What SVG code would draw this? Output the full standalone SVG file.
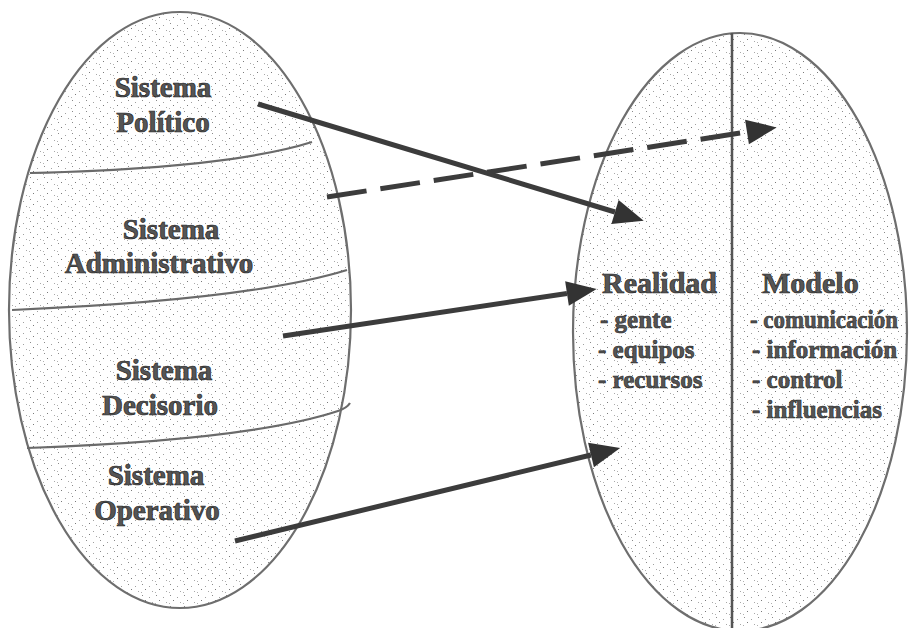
<svg xmlns="http://www.w3.org/2000/svg" width="911" height="628" viewBox="0 0 911 628">
  <style>
    .shape { stroke: #6e6e6e; stroke-width: 2.2; fill: url(#stipple); }
    .div { stroke: #6a6a6a; stroke-width: 2.2; fill: none; }
    .lbl { font-family: "Liberation Serif", "Times New Roman", serif; font-weight: bold; font-size: 29px; fill: #555; stroke: #262626; stroke-width: 0.7; text-anchor: middle; }
    .hd { font-family: "Liberation Serif", "Times New Roman", serif; font-weight: bold; font-size: 30px; fill: #555; stroke: #262626; stroke-width: 0.7; }
    .item { font-family: "Liberation Serif", "Times New Roman", serif; font-weight: bold; font-size: 25px; fill: #555; stroke: #262626; stroke-width: 0.6; }
    .arrow { stroke: #3c3c3c; stroke-width: 5; fill: none; marker-end: url(#head); }
    .dashed { stroke-dasharray: 40 14; }
  </style>
  <defs>
    <pattern id="stipple" width="14" height="11" patternUnits="userSpaceOnUse">
      <rect width="14" height="11" fill="#ffffff"/>
      <rect x="2" y="1" width="1" height="1" fill="#8a8a8a"/>
      <rect x="9" y="3" width="1" height="1" fill="#a0a0a0"/>
      <rect x="5" y="6" width="1" height="1" fill="#7a7a7a"/>
      <rect x="12" y="8" width="1" height="1" fill="#a8a8a8"/>
      <rect x="1" y="9" width="1" height="1" fill="#b0b0b0"/>
    </pattern>
    <marker id="head" markerUnits="userSpaceOnUse" viewBox="0 -14 32 28" markerWidth="32" markerHeight="28" refX="0" refY="0" orient="auto" overflow="visible">
      <path d="M0,-12.5 L30,0 L0,12.5 Z" fill="#333"/>
    </marker>
  </defs>

  <g id="left-ellipse">
    <ellipse class="shape" cx="180" cy="310" rx="171" ry="298"/>
    <path class="div" d="M30,173 Q230,168 312,142"/>
    <path class="div" d="M12,310 Q250,300 347,270"/>
    <path class="div" d="M27,448 Q250,440 338,411 Q347,408 350,403"/>
  </g>

  <g id="sistema-politico">
    <text class="lbl" x="163" y="97">Sistema</text>
    <text class="lbl" x="163" y="132">Político</text>
  </g>
  <g id="sistema-administrativo">
    <text class="lbl" x="171" y="239">Sistema</text>
    <text class="lbl" x="159" y="273">Administrativo</text>
  </g>
  <g id="sistema-decisorio">
    <text class="lbl" x="164" y="380">Sistema</text>
    <text class="lbl" x="160" y="415">Decisorio</text>
  </g>
  <g id="sistema-operativo">
    <text class="lbl" x="156" y="485">Sistema</text>
    <text class="lbl" x="157" y="520">Operativo</text>
  </g>

  <g id="right-ellipse">
    <ellipse class="shape" cx="740" cy="332" rx="167" ry="299"/>
    <line x1="732" y1="33" x2="732" y2="628" stroke="#555" stroke-width="2.5"/>
  </g>

  <g id="realidad">
    <text class="hd" x="602" y="293">Realidad</text>
    <text class="item" x="600" y="328">- gente</text>
    <text class="item" x="598" y="358">- equipos</text>
    <text class="item" x="598" y="388">- recursos</text>
  </g>
  <g id="modelo">
    <text class="hd" x="762" y="293">Modelo</text>
    <text class="item" x="750" y="328" textLength="148" lengthAdjust="spacingAndGlyphs">- comunicación</text>
    <text class="item" x="752" y="358">- información</text>
    <text class="item" x="752" y="388">- control</text>
    <text class="item" x="752" y="418">- influencias</text>
  </g>

  <g id="connectors">
    <line class="arrow" x1="258" y1="104" x2="615" y2="212"/>
    <line class="arrow dashed" x1="327" y1="197" x2="747" y2="132"/>
    <line class="arrow" x1="283" y1="336" x2="567" y2="293.5"/>
    <line class="arrow" x1="235" y1="541" x2="591" y2="455"/>
  </g>
</svg>
